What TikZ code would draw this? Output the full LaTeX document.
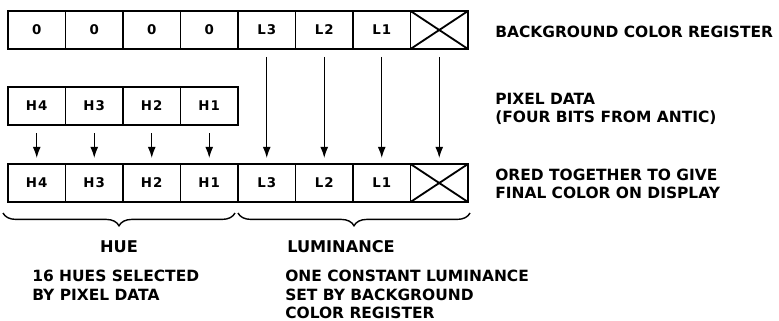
\documentclass[tikz,border=0pt]{standalone}
\usepackage{fontspec}
\setmainfont{DejaVu Sans}
\usetikzlibrary{arrows.meta, positioning, decorations.pathreplacing}

\begin{document}
\begin{tikzpicture}[
    node distance=0pt,
    cell/.style={rectangle, draw=black, line width=1.3pt, minimum height=0.95cm, minimum width=1.4375cm, inner sep=0pt, outer sep=0pt, font=\fontsize{9.5}{11}\selectfont\bfseries\addfontfeatures{LetterSpace=8}},
    feed/.style={-{Latex[length=2.8mm,width=2mm]}, line width=1pt, shorten <=0.2cm, shorten >=0.15cm},
    note/.style={anchor=north west, inner sep=0pt, align=left, font=\fontsize{11}{13}\selectfont\bfseries},
    bracket/.style={decorate, decoration={brace, mirror, amplitude=0.32cm}, line width=1pt}
]
    \useasboundingbox (0,0) rectangle (19.475,-8.025);

    % Background color register
    \node[cell, anchor=north west] (bg1) at (0.2,-0.275) {0};
    \node[cell, right=0pt of bg1] (bg2) {0};
    \node[cell, right=0pt of bg2] (bg3) {0};
    \node[cell, right=0pt of bg3] (bg4) {0};
    \node[cell, right=0pt of bg4] (bg5) {L3};
    \node[cell, right=0pt of bg5] (bg6) {L2};
    \node[cell, right=0pt of bg6] (bg7) {L1};
    \node[cell, right=0pt of bg7] (bg8) {};
    \draw[line width=1.3pt] (bg8.north west) -- (bg8.south east) (bg8.north east) -- (bg8.south west);
    \node[note] (bgnote) at (12.375,-0.65) {BACKGROUND COLOR REGISTER};

    % Pixel data
    \node[cell, anchor=north west] (px1) at (0.2,-2.175) {H4};
    \node[cell, right=0pt of px1] (px2) {H3};
    \node[cell, right=0pt of px2] (px3) {H2};
    \node[cell, right=0pt of px3] (px4) {H1};
    \node[note] (pxnote) at (12.375,-2.32) {PIXEL DATA\\(FOUR BITS FROM ANTIC)};

    % Final color
    \node[cell, anchor=north west] (out1) at (0.2,-4.1) {H4};
    \node[cell, right=0pt of out1] (out2) {H3};
    \node[cell, right=0pt of out2] (out3) {H2};
    \node[cell, right=0pt of out3] (out4) {H1};
    \node[cell, right=0pt of out4] (out5) {L3};
    \node[cell, right=0pt of out5] (out6) {L2};
    \node[cell, right=0pt of out6] (out7) {L1};
    \node[cell, right=0pt of out7] (out8) {};
    \draw[line width=1.3pt] (out8.north west) -- (out8.south east) (out8.north east) -- (out8.south west);
    \node[note] (outnote) at (12.375,-4.21) {ORED TOGETHER TO GIVE\\FINAL COLOR ON DISPLAY};

    % Hue bits
    \draw[feed] (px1.south) -- (out1.north);
    \draw[feed] (px2.south) -- (out2.north);
    \draw[feed] (px3.south) -- (out3.north);
    \draw[feed] (px4.south) -- (out4.north);

    % Luminance bits
    \draw[feed] (bg5.south) -- (out5.north);
    \draw[feed] (bg6.south) -- (out6.north);
    \draw[feed] (bg7.south) -- (out7.north);
    \draw[feed] (bg8.south) -- (out8.north);

    % Braces
    \draw[bracket] (0.075,-5.325) -- (5.875,-5.325);
    \draw[bracket] (5.95,-5.325) -- (11.75,-5.325);
    \node[anchor=base, inner sep=0pt, font=\fontsize{11.5}{13}\selectfont\bfseries] (hue) at (2.975,-6.32) {HUE};
    \node[anchor=base, inner sep=0pt, font=\fontsize{11.5}{13}\selectfont\bfseries] (lum) at (8.525,-6.32) {LUMINANCE};
    \node[note] (huenote) at (0.8,-6.75) {16 HUES SELECTED\\BY PIXEL DATA};
    \node[note] (lumnote) at (7.125,-6.75) {ONE CONSTANT LUMINANCE\\SET BY BACKGROUND\\COLOR REGISTER};
\end{tikzpicture}
\end{document}
